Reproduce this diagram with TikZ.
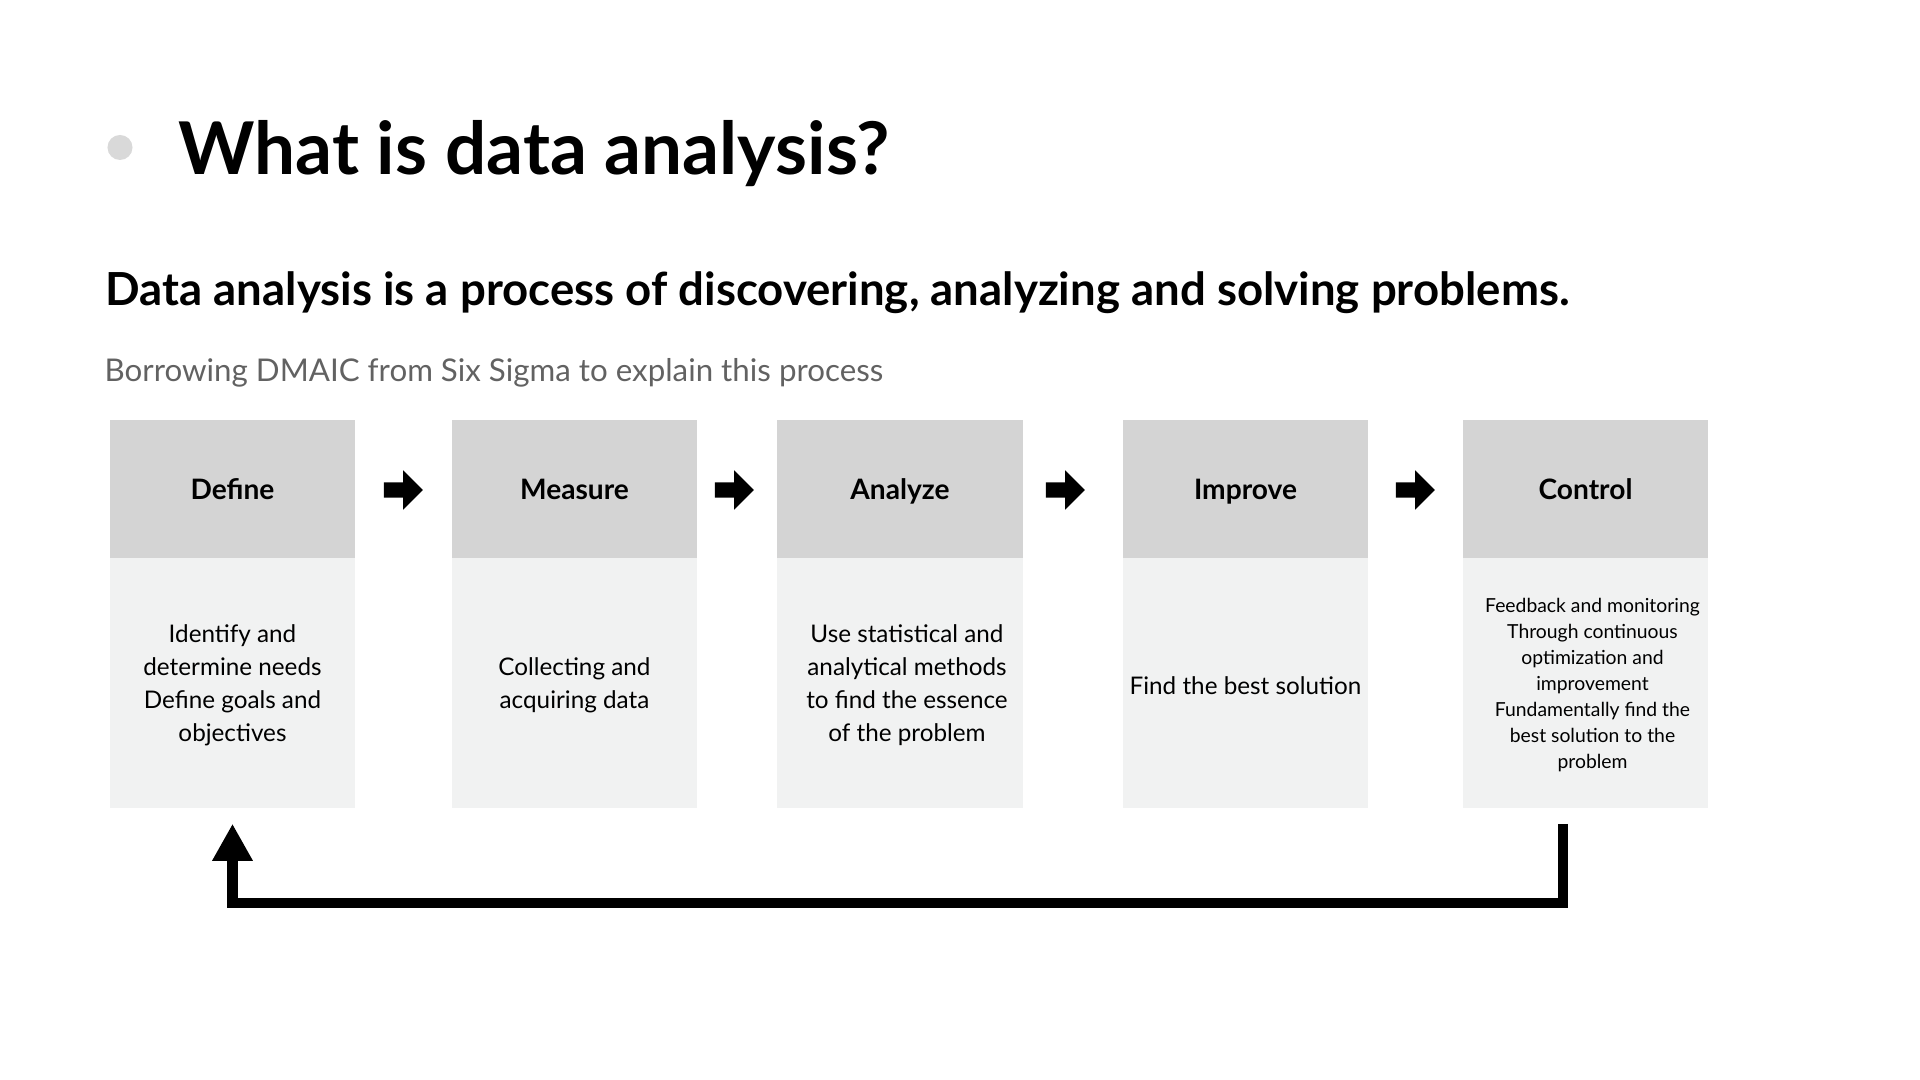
\documentclass[tikz,border=0pt]{standalone}
\usepackage{fontspec}
\setmainfont{Lato}
\usetikzlibrary{shapes,arrows.meta,positioning,calc}
\definecolor{headgray}{RGB}{212, 212, 212}
\definecolor{bodygray}{RGB}{241, 242, 242}
\definecolor{bulletgray}{RGB}{217, 217, 217}
\definecolor{notegray}{RGB}{98, 98, 98}

\begin{document}
\begin{tikzpicture}[
    x=0.01cm, y=-0.01cm,
    head/.style={rectangle, fill=headgray, minimum width=2.45cm, minimum height=1.38cm, inner sep=0pt, text height=5.7pt, text depth=0pt, font=\fontsize{8}{10}\selectfont\bfseries},
    body/.style={rectangle, fill=bodygray, minimum width=2.45cm, minimum height=2.5cm, inner sep=0pt},
    desc/.style={align=center, inner sep=0pt, font=\fontsize{6.9}{9.4}\selectfont},
    smalldesc/.style={align=center, inner sep=0pt, font=\fontsize{5.5}{7.4}\selectfont},
    flowarrow/.style={single arrow, fill=black, inner sep=0pt, text height=0.14cm, text depth=0pt, minimum height=0.39cm, single arrow head extend=0.12cm, single arrow head indent=0pt},
    looparrow/.style={line width=0.1cm, -{Triangle[width=0.38cm, length=0.37cm]}}
]
\useasboundingbox (0,0) rectangle (1920,1080);

% Title
\fill[bulletgray] (120,147.5) circle[radius=0.125cm];
\node[anchor=base west, inner sep=0pt, font=\fontsize{20.7}{25}\selectfont\bfseries] (title) at (178,175) {What is data analysis?};
\node[anchor=base west, inner sep=0pt, font=\fontsize{12.95}{16}\selectfont\bfseries] (lead) at (105,306) {Data analysis is a process of discovering, analyzing and solving problems.};
\node[anchor=base west, inner sep=0pt, text=notegray, font=\fontsize{8.9}{11}\selectfont] (note) at (104,382) {Borrowing DMAIC from Six Sigma to explain this process};

% DMAIC headers
\node[head] (dh) at (232.5,489) {Define};
\node[head] (mh) at (574.5,489) {Measure};
\node[head] (ah) at (900,489) {Analyze};
\node[head] (ih) at (1245.5,489) {Improve};
\node[head] (ch) at (1585.5,489) {Control};

% DMAIC bodies
\node[body] (db) at (232.5,683) {};
\node[body] (mb) at (574.5,683) {};
\node[body] (ab) at (900,683) {};
\node[body] (ib) at (1245.5,683) {};
\node[body] (cb) at (1585.5,683) {};

% Descriptions
\node[desc] (dt) at ([yshift=-0.025cm]db.center) {Identify and\\determine needs\\Define goals and\\objectives};
\node[desc] (mt) at ([yshift=-0.025cm]mb.center) {Collecting and\\acquiring data};
\node[desc] (at) at ([shift={(0.07cm,-0.025cm)}]ab.center) {Use statistical and\\analytical methods\\to find the essence\\of the problem};
\node[desc] (it) at ([yshift=-0.025cm]ib.center) {Find the best solution};
\node[smalldesc] (ct) at ([shift={(0.07cm,-0.02cm)}]cb.center) {Feedback and monitoring\\Through continuous\\optimization and\\improvement\\Fundamentally find the\\best solution to the\\problem};

% Arrows between steps
\node[flowarrow] (a1) at (399.5,490) {};
\node[flowarrow] (a2) at (730.5,490) {};
\node[flowarrow] (a3) at (1061.5,490) {};
\node[flowarrow] (a4) at (1411.5,490) {};

% Feedback loop
\draw[looparrow] ([shift={(-22.5,15)}]cb.south) -- ++(0,79) -| ([shift={(0,15)}]db.south);

\end{tikzpicture}
\end{document}
